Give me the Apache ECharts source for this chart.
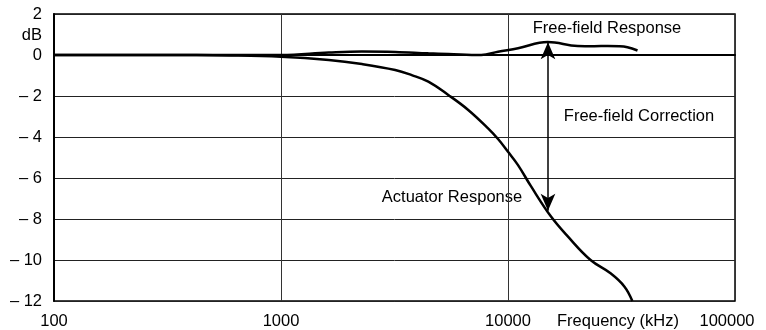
<!DOCTYPE html>
<html>
<head>
<meta charset="utf-8">
<script src="https://cdn.jsdelivr.net/npm/echarts@6/dist/echarts.min.js"></script>
<style>
  html, body { margin: 0; padding: 0; background: #fff; }
  #chart { width: 766px; height: 330px; }
</style>
</head>
<body>
<div id="chart"></div>
<script>
// Frequency responses, dB versus frequency (log scale)
const freeFieldFreq = [100, 300, 1000, 1624, 2273, 3185, 4457, 5457, 7620, 9040, 11070, 14970, 20280, 24000, 27500, 31000, 33600, 37200];
const freeFieldDb   = [0, 0, 0, 0.12, 0.17, 0.15, 0.08, 0.05, 0, 0.16, 0.33, 0.63, 0.44, 0.43, 0.44, 0.43, 0.38, 0.22];

const actuatorFreq = [100, 300, 600, 1000, 1624, 2273, 3185, 3767, 4457, 5457, 6680, 8170, 9040, 10000, 11070, 12620, 15440, 18340, 23100, 28300, 32600, 35300];
const actuatorDb   = [0, 0, -0.02, -0.08, -0.24, -0.44, -0.73, -0.98, -1.3, -1.95, -2.68, -3.58, -4.1, -4.72, -5.37, -6.4, -7.87, -8.85, -10.0, -10.65, -11.3, -12.0];

// Free-field correction arrow between the two curves
const correctionFreq = 15000;
const correctionTop = 0.62;
const correctionBottom = -7.6;

// Axis ranges and tick labels
const xTicks = [100, 1000, 10000, 100000];
const yMin = -12, yMax = 2, yStep = 2;

const FONT = '"Liberation Sans", Arial, Helvetica, sans-serif';

function pairs(xs, ys) { return xs.map((x, i) => [x, ys[i]]); }

const chart = echarts.init(document.getElementById('chart'), null, { renderer: 'canvas' });

const xMax = xTicks[xTicks.length - 1];

chart.setOption({
  animation: false,
  backgroundColor: '#fff',
  textStyle: { fontFamily: FONT },
  grid: {
    left: 54, right: 31, top: 14, bottom: 29,
    show: true, borderColor: '#000', borderWidth: 1.5
  },
  xAxis: {
    type: 'log', logBase: 10,
    min: xTicks[0], max: xMax,
    axisLine: { show: true, lineStyle: { color: '#000', width: 2 } },
    axisTick: { show: false },
    minorTick: { show: false },
    splitLine: { show: true, lineStyle: { color: '#333', width: 1 } },
    axisLabel: {
      color: '#000', fontSize: 16.5, fontFamily: FONT, margin: 12,
      formatter: v => {
        const s = String(Math.round(v));
        // the last label sits a little inside the frame
        return Math.round(v) === xMax ? '{last|' + s + '}' : s;
      },
      rich: {
        last: { color: '#000', fontSize: 16.5, fontFamily: FONT, padding: [0, 16, 0, 0] }
      }
    }
  },
  yAxis: {
    type: 'value', min: yMin, max: yMax, interval: yStep,
    axisLine: { show: true, lineStyle: { color: '#000', width: 2 } },
    axisTick: { show: false },
    splitLine: { show: true, lineStyle: { color: '#222', width: 1 } },
    axisLabel: {
      color: '#000', fontSize: 16.5, fontFamily: FONT, margin: 12,
      formatter: v => v < 0 ? '\u2013 ' + (-v) : String(v)
    }
  },
  graphic: [
    { type: 'text', x: 42, y: 35, style: { text: 'dB', fill: '#000', font: '16.5px ' + FONT, textAlign: 'right', textVerticalAlign: 'middle' } },
    { type: 'text', x: 618, y: 321, style: { text: 'Frequency (kHz)', fill: '#000', font: '16.5px ' + FONT, textAlign: 'center', textVerticalAlign: 'middle' } },
    { type: 'text', x: 607, y: 28, style: { text: 'Free-field Response', fill: '#000', font: '16.5px ' + FONT, textAlign: 'center', textVerticalAlign: 'middle' } },
    { type: 'text', x: 639, y: 116, style: { text: 'Free-field Correction', fill: '#000', font: '16.5px ' + FONT, textAlign: 'center', textVerticalAlign: 'middle' } },
    { type: 'text', x: 452, y: 197, style: { text: 'Actuator Response', fill: '#000', font: '16.5px ' + FONT, textAlign: 'center', textVerticalAlign: 'middle' } }
  ],
  series: [
    {
      name: 'Free-field Response',
      type: 'line', smooth: 0.4, showSymbol: false, silent: true,
      lineStyle: { color: '#000', width: 2.5 },
      data: pairs(freeFieldFreq, freeFieldDb),
      markLine: {
        silent: true,
        symbol: ['arrow', 'arrow'],
        symbolSize: [11, 17],
        label: { show: false },
        lineStyle: { color: '#000', width: 1.5, type: 'solid' },
        data: [[
          { coord: [correctionFreq, correctionTop] },
          { coord: [correctionFreq, correctionBottom] }
        ]]
      }
    },
    {
      name: 'Actuator Response',
      type: 'line', smooth: 0.4, showSymbol: false, silent: true,
      lineStyle: { color: '#000', width: 2.5 },
      data: pairs(actuatorFreq, actuatorDb)
    }
  ]
});
</script>
</body>
</html>
